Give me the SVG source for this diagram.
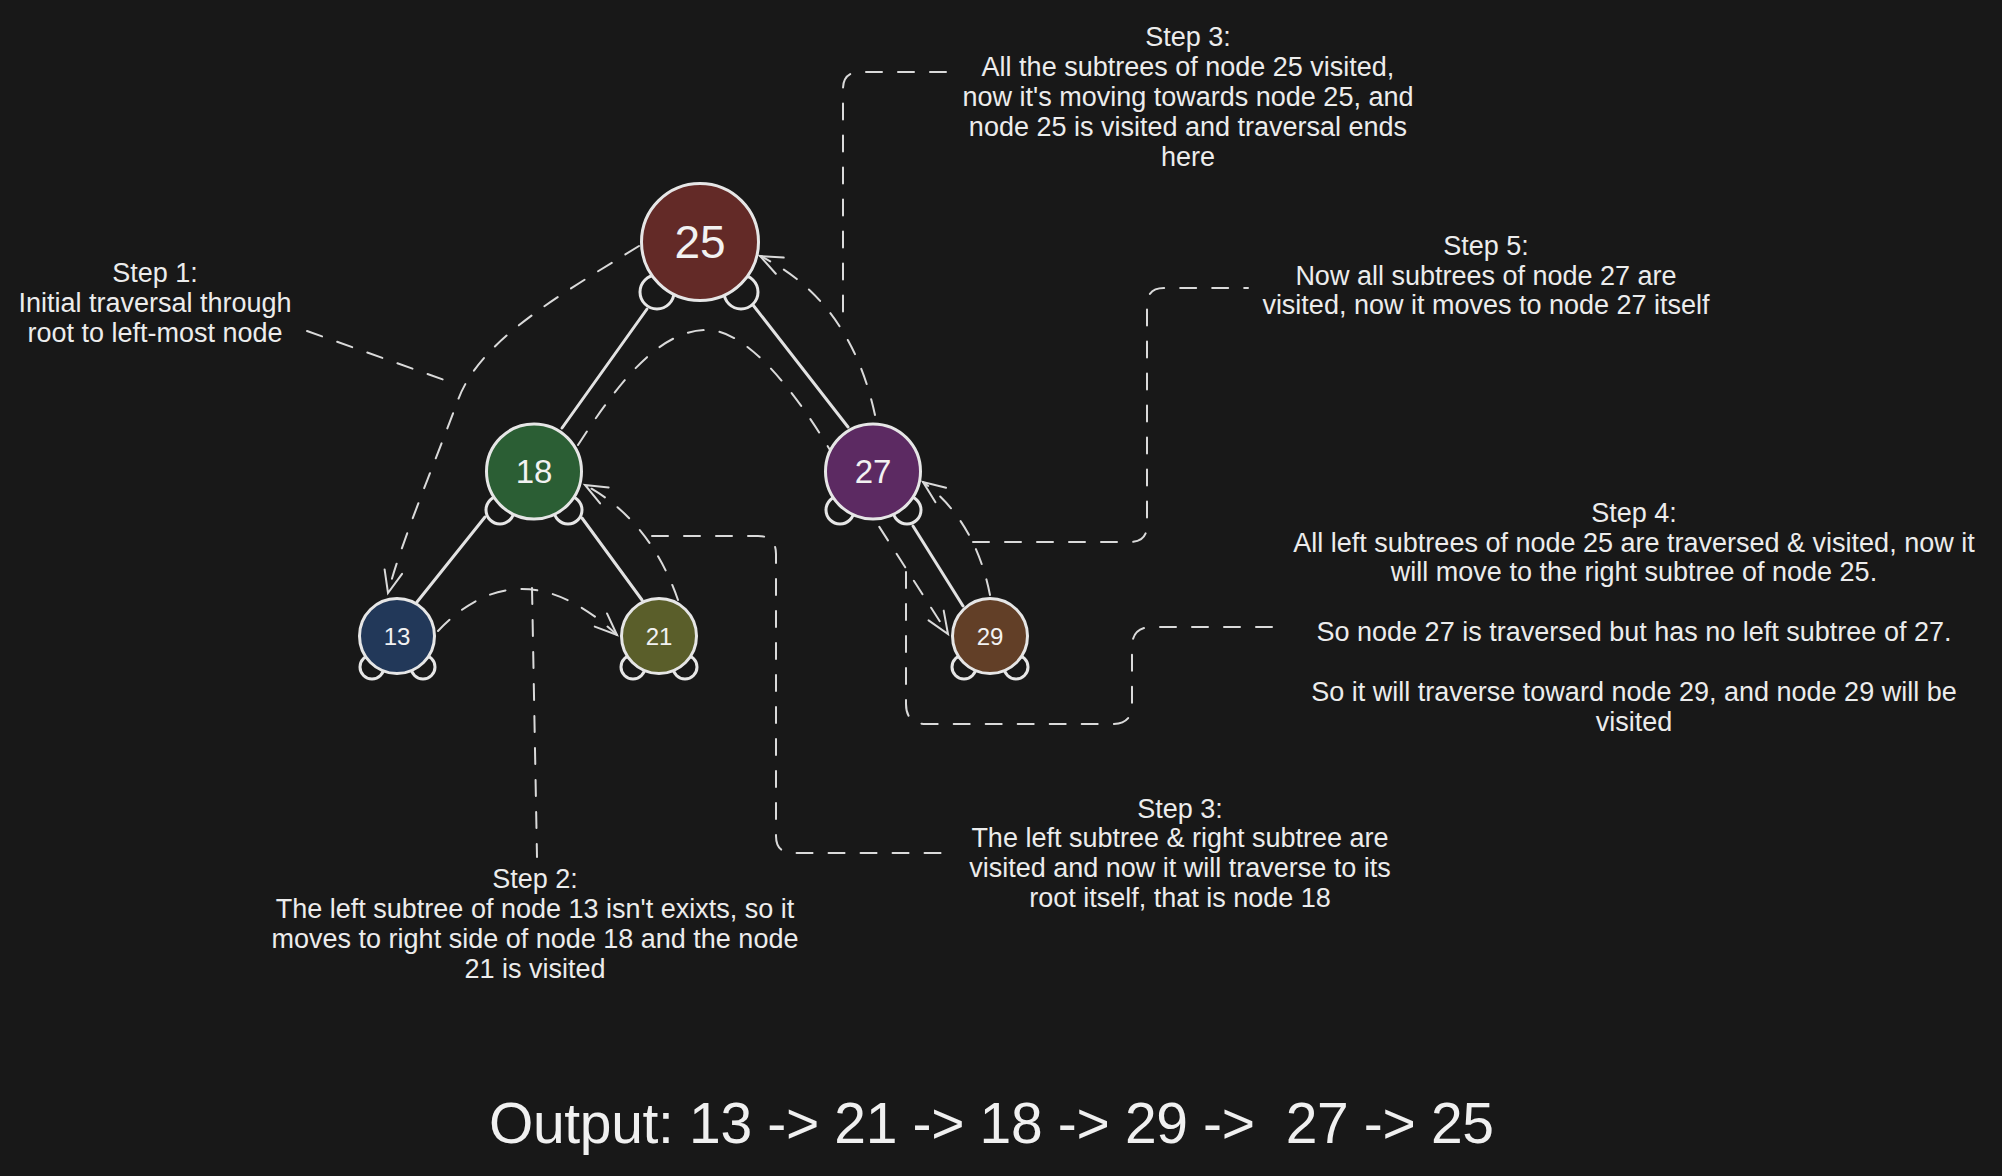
<svg xmlns="http://www.w3.org/2000/svg" width="2002" height="1176" viewBox="0 0 2002 1176">
<defs>
<style>
.edge{stroke:#e2e2e2;stroke-width:3;fill:none;stroke-linecap:round}
.dash{fill:none;stroke:#dadada;stroke-width:2;stroke-dasharray:16 16;stroke-linecap:round}
.ear{fill:#181818;stroke:#e6e6e6;stroke-width:3}
.nc{stroke:#e6e6e6;stroke-width:3}
.num{font-family:"Liberation Sans","DejaVu Sans",sans-serif;fill:#f2f2f2;text-anchor:middle}
.lbl{font-family:"Liberation Sans","DejaVu Sans",sans-serif;font-size:27px;fill:#ececec;text-anchor:middle}
.out{font-family:"Liberation Sans","DejaVu Sans",sans-serif;font-size:57px;fill:#f0f0f0}
</style>
<marker id="ah" viewBox="-26 -13 30 26" refX="0" refY="0" markerWidth="30" markerHeight="26" markerUnits="userSpaceOnUse" orient="auto">
<path d="M-22,-9 L0,0 L-22,9" fill="none" stroke="#dadada" stroke-width="2" stroke-dasharray="none" stroke-linecap="round"/>
</marker>
</defs>
<rect width="2002" height="1176" fill="#181818"/>

<g id="connectors">
<line class="edge" x1="647" y1="309" x2="562" y2="428"/>
<line class="edge" x1="753" y1="305" x2="848" y2="427"/>
<line class="edge" x1="485" y1="517" x2="417" y2="602"/>
<line class="edge" x1="582" y1="518" x2="642" y2="600"/>
<line class="edge" x1="913" y1="526" x2="963" y2="606"/>

<path class="dash" marker-end="url(#ah)" d="M639 246 C560 295 480 340 458 400 S400 545 388 593"/>
<path class="dash" d="M307 331 L450 382"/>
<path class="dash" marker-end="url(#ah)" d="M438 631 Q520 545 617 635"/>
<path class="dash" d="M532 588 L537 857"/>
<path class="dash" marker-end="url(#ah)" d="M678 600 Q650 520 585 485"/>
<path class="dash" d="M652 536 L758 536 Q776 536 776 554 L776 836 Q776 853 793 853 L945 853"/>
<path class="dash" marker-end="url(#ah)" d="M578 445 C620 380 660 330 707 330 C750 330 800 400 830 450 L948 634"/>
<path class="dash" marker-end="url(#ah)" d="M875 415 Q850 300 760 256"/>
<path class="dash" d="M946 72 L860 72 Q843 72 843 89 L843 326"/>
<path class="dash" marker-end="url(#ah)" d="M990 595 Q975 520 923 482"/>
<path class="dash" d="M973 542 L1130 542 Q1147 542 1147 525 L1147 305 Q1147 288 1164 288 L1248 288"/>
<path class="dash" d="M1272 627 L1152 627 Q1132 627 1132 647 L1132 705 Q1132 724 1112 724 L926 724 Q906 724 906 704 L906 570"/>
</g>

<g id="node-25">
<circle class="ear" cx="657" cy="292" r="17"/>
<circle class="ear" cx="741" cy="292" r="17"/>
<circle class="nc" cx="700" cy="242" r="58.5" fill="#632a27"/>
<text class="num" x="700" y="258" font-size="46">25</text>
</g>
<g id="node-18">
<circle class="ear" cx="500" cy="510" r="14"/>
<circle class="ear" cx="568" cy="510" r="14"/>
<circle class="nc" cx="534" cy="471.5" r="47.5" fill="#2b5e34"/>
<text class="num" x="534" y="483" font-size="33">18</text>
</g>
<g id="node-27">
<circle class="ear" cx="840" cy="510" r="14"/>
<circle class="ear" cx="907" cy="510" r="14"/>
<circle class="nc" cx="873" cy="471.5" r="47.5" fill="#5c2a62"/>
<text class="num" x="873" y="483" font-size="33">27</text>
</g>
<g id="node-13">
<circle class="ear" cx="372" cy="667" r="12"/>
<circle class="ear" cx="423" cy="667" r="12"/>
<circle class="nc" cx="397" cy="636" r="37.5" fill="#223859"/>
<text class="num" x="397" y="644.5" font-size="24">13</text>
</g>
<g id="node-21">
<circle class="ear" cx="633" cy="667" r="12"/>
<circle class="ear" cx="685" cy="667" r="12"/>
<circle class="nc" cx="659" cy="636" r="37.5" fill="#5a5e2a"/>
<text class="num" x="659" y="644.5" font-size="24">21</text>
</g>
<g id="node-29">
<circle class="ear" cx="964" cy="667" r="12"/>
<circle class="ear" cx="1016" cy="667" r="12"/>
<circle class="nc" cx="990" cy="636" r="37.5" fill="#623f27"/>
<text class="num" x="990" y="644.5" font-size="24">29</text>
</g>

<g id="step1">
<text class="lbl" x="155" y="282">Step 1:</text>
<text class="lbl" x="155" y="312">Initial traversal through</text>
<text class="lbl" x="155" y="342">root to left-most node</text>
</g>
<g id="step3-top">
<text class="lbl" x="1188" y="46">Step 3:</text>
<text class="lbl" x="1188" y="76">All the subtrees of node 25 visited,</text>
<text class="lbl" x="1188" y="106">now it's moving towards node 25, and</text>
<text class="lbl" x="1188" y="136">node 25 is visited and traversal ends</text>
<text class="lbl" x="1188" y="166">here</text>
</g>
<g id="step5">
<text class="lbl" x="1486" y="255">Step 5:</text>
<text class="lbl" x="1486" y="285">Now all subtrees of node 27 are</text>
<text class="lbl" x="1486" y="314">visited, now it moves to node 27 itself</text>
</g>
<g id="step4">
<text class="lbl" x="1634" y="522">Step 4:</text>
<text class="lbl" x="1634" y="552">All left subtrees of node 25 are traversed &amp; visited, now it</text>
<text class="lbl" x="1634" y="581">will move to the right subtree of node 25.</text>
<text class="lbl" x="1634" y="641">So node 27 is traversed but has no left subtree of 27.</text>
<text class="lbl" x="1634" y="701">So it will traverse toward node 29, and node 29 will be</text>
<text class="lbl" x="1634" y="731">visited</text>
</g>
<g id="step3-bottom">
<text class="lbl" x="1180" y="818">Step 3:</text>
<text class="lbl" x="1180" y="847">The left subtree &amp; right subtree are</text>
<text class="lbl" x="1180" y="877">visited and now it will traverse to its</text>
<text class="lbl" x="1180" y="907">root itself, that is node 18</text>
</g>
<g id="step2">
<text class="lbl" x="535" y="888">Step 2:</text>
<text class="lbl" x="535" y="918">The left subtree of node 13 isn't exixts, so it</text>
<text class="lbl" x="535" y="948">moves to right side of node 18 and the node</text>
<text class="lbl" x="535" y="978">21 is visited</text>
</g>
<g id="output">
<text class="out" x="489" y="1143" textLength="1005" xml:space="preserve">Output: 13 -&gt; 21 -&gt; 18 -&gt; 29 -&gt;  27 -&gt; 25</text>
</g>
</svg>
